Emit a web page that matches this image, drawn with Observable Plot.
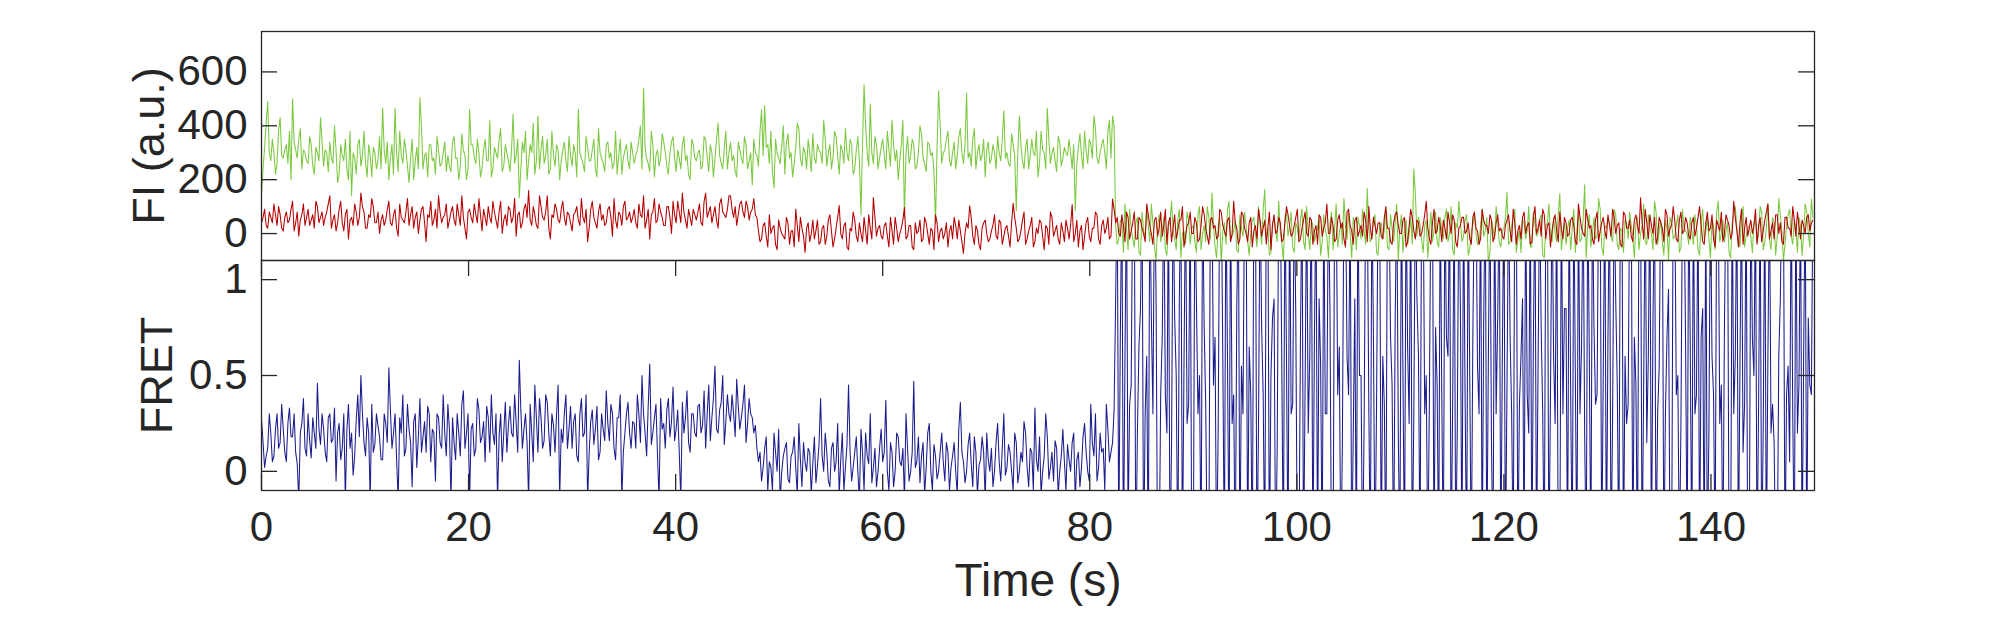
<!DOCTYPE html>
<html><head><meta charset="utf-8">
<script src="https://cdn.jsdelivr.net/npm/d3@7"></script>
<script src="https://cdn.jsdelivr.net/npm/@observablehq/plot@0.6"></script>
<style>
html,body{margin:0;padding:0;background:#fff;}
#wrap{position:relative;width:2005px;height:625px;overflow:hidden;background:#fff;}
#wrap svg{position:absolute;left:0;}
</style></head><body><div id="wrap"></div>
<script>
// frame interval of the main samples (s); the "Mid" arrays hold the frames half-way between
const dt = 0.3;
// donor (green) intensity, a.u.
const donor = [
150,320,490,270,300,260,430,280,330,380,500,310,350,240,300,260,330,220,300,430,
250,300,340,260,310,220,290,350,200,140,280,330,250,380,210,290,320,240,360,466,
260,200,330,466,230,290,350,250,280,200,320,503,240,300,330,270,220,310,260,340,
290,230,360,280,250,310,200,460,330,260,300,240,350,270,210,320,280,390,250,300,
230,443,290,133,340,380,270,300,220,437,310,260,350,240,290,330,200,310,270,360,
250,300,462,280,230,320,270,350,210,300,260,330,280,240,380,290,220,310,270,340,
260,310,400,540,280,230,330,290,250,370,300,220,340,280,310,240,360,290,200,330,
270,310,250,350,230,300,280,410,260,320,240,340,290,210,310,260,330,270,180,300,
250,460,474,330,380,170,300,260,400,340,280,210,320,390,250,300,350,230,280,330,
300,420,250,330,280,360,220,310,390,270,330,240,360,70,552,300,481,260,330,280,
350,240,310,420,270,200,330,58,360,290,330,250,400,280,230,330,300,37,530,260,
310,380,250,340,290,390,260,522,300,350,240,330,290,210,340,280,300,360,270,456,
300,250,330,85,437,270,320,240,350,290,210,380,300,464,260,320,230,340,280,300,
350,240,85,320,290,380,260,330,437,280,300,350,240,420,436,30,-20,40,110,-60,
20,-50,60,-80,10,90,-30,40,-100,70,0,-60,30,120,-20,50,-90,10,80,-40,
30,-70,100,0,-30,60,150,-50,20,-110,40,90,-20,10,-60,70,-10,30,-80,50,
0,100,-40,163,20,-70,60,-30,10,-100,80,30,-50,40,-20,90,-60,0,50,-30,
20,-80,70,-10,40,-60,110,0,-40,30,80,-90,20,60,-20,10,167,-30,50,-70,
30,-20,90,-60,20,40,-100,70,10,-40,60,240,-10,30,-70,50,0,-30,80,-50,
10,60,-30,100,-80,20,40,-10,70,-60,30,0,-40,90,10,-110,50,-20,40,-50,
20,152,-30,60,-70,10,50,-20,100,-50,30,0,70,-90,40,-10,60,-30,148,0,
-40,50,20,-70,80,-20,181,30,-50,60,-10,90,-80,20,40,-30,70,-60,10,50,
-20,30,-90,60,0,110,-40,20,-60,80,10,-30,50,-100,40,-10,70,-50,20,0,
60,-40,30,-80,90,10,-20,50,-60,120,0,-30,40,-90,70,20,-50,100,-10,30,
-70,50,0,80,-30,110,-60,40,-10,70,-100,30,90,-40,20,60,-80,110,0,128
];
const donorMid = [
240,410,300,350,220,380,290,310,260,200,340,280,390,310,270,360,250,320,270,340,
310,230,280,400,190,330,270,240,380,300,220,350,290,260,330,210,300,270,240,310,
340,280,220,300,380,260,310,190,350,270,240,400,290,210,330,280,360,250,300,230,
250,340,280,200,370,290,240,330,280,350,210,310,270,420,240,300,350,230,330,270,
310,260,350,240,300,200,330,410,270,240,360,290,220,380,250,310,270,340,230,290,
330,210,300,260,360,270,310,240,390,280,230,340,300,260,220,350,280,330,240,300,
290,350,240,320,260,380,210,310,280,340,250,300,360,230,280,330,270,220,350,280,
300,240,360,280,330,210,350,290,240,380,300,270,230,340,280,360,240,300,350,290,
380,290,320,260,230,350,280,330,220,370,300,260,410,280,320,240,300,370,260,310,
260,350,300,240,380,290,330,260,300,350,220,310,270,330,400,250,300,360,240,320,
290,380,250,330,310,270,420,300,260,350,240,300,370,260,340,290,230,320,400,300,
350,270,300,240,360,300,330,280,250,390,300,270,350,310,260,330,240,300,350,280,
260,370,290,300,330,240,350,290,300,380,260,310,240,350,300,270,360,250,320,290,
300,330,260,370,240,310,350,280,390,260,330,300,380,280,400,-40,50,-70,20,90,
-20,40,-70,80,-10,30,110,-50,20,-30,60,-80,40,10,-60,90,0,-40,50,20,
-30,70,-60,30,100,-20,40,-90,60,10,-40,120,-10,50,-70,20,80,-30,0,60,
-50,30,90,-20,-80,40,10,120,-40,60,-10,80,-70,20,50,-30,100,-60,30,0,
60,-30,10,-90,80,20,-50,40,130,-20,0,60,-60,30,90,-40,20,-10,70,-80,
40,10,-50,70,-30,110,20,-70,50,0,-40,150,60,-20,30,-90,80,10,-30,60,
-20,90,0,-60,40,120,-30,50,-80,10,70,-40,30,-10,60,-70,20,100,-30,10,
60,-40,30,90,-20,-70,40,10,-50,80,-10,50,-80,30,110,-30,0,70,-60,40,
20,-60,90,10,-30,50,-90,70,0,-20,130,-50,30,60,-10,90,-40,20,-70,40,
80,-10,40,-60,30,-30,70,0,120,-40,50,-80,20,60,-20,30,-70,90,10,-40,
10,70,-60,40,-20,60,-90,30,80,-30,50,10,-70,40,100,-20,60,-50,20,-10,
40,-30,100,-60,20,-20,60,-80,130,10,-40,70,-10,50,-70,30,0,80,-50,60
];
// acceptor (red) intensity, a.u.
const acceptor = [
40,90,20,60,110,30,70,10,80,50,120,40,-10,70,30,90,50,20,100,60,
30,80,140,50,10,90,40,70,-20,60,110,30,150,80,20,60,100,40,0,70,
50,120,30,90,-10,60,40,130,70,20,80,50,100,-30,60,30,90,140,40,70,
20,80,50,110,30,60,-20,90,40,70,130,10,60,100,40,80,20,120,50,30,
90,60,-10,80,40,110,160,30,70,20,100,50,140,-20,60,90,40,120,30,70,
10,80,50,130,40,-30,90,60,20,110,70,40,100,-10,50,80,30,120,60,40,
90,20,70,140,50,-20,80,40,110,60,30,100,0,70,120,40,80,20,60,90,
50,110,30,150,80,40,100,20,130,70,90,140,60,30,110,80,120,50,90,70,
10,-20,40,-50,0,30,-60,20,-10,60,-40,10,90,-30,20,-70,40,0,-20,50,
-30,30,-10,70,-50,20,104,-20,40,-60,10,50,-30,0,60,-40,20,134,-10,30,
-20,40,-50,10,60,-30,20,97,-10,30,-60,0,50,-20,40,-40,10,70,-30,20,
0,-50,30,60,-20,10,-74,40,103,-10,30,-40,20,50,-30,10,70,-20,40,-10,
30,-50,112,20,-20,50,-40,10,60,-30,0,40,-60,20,80,-10,30,-40,10,50,
-20,108,0,-50,30,-10,60,-30,20,70,-40,50,20,-20,128,40,0,70,-30,60,
10,80,-20,50,0,110,30,-40,60,20,-10,90,40,-30,70,10,50,-50,30,80,
0,40,-20,100,20,-40,60,30,-10,80,10,50,-30,120,20,-20,70,0,40,-50,
30,90,-10,50,20,-60,70,10,40,-20,100,30,0,60,-30,20,80,-10,50,10,
-40,60,20,110,0,30,-20,70,40,-50,90,10,50,-10,30,80,-30,20,60,0,
40,-20,100,20,-40,70,30,0,60,-30,90,10,50,-10,30,120,-20,40,0,60,
-30,20,80,0,50,-50,30,60,10,-20,60,20,-40,90,30,0,50,-10,70,20,
-20,50,10,90,-40,30,60,0,40,-30,100,20,-10,70,30,-50,50,10,80,-20,
40,0,60,-30,110,20,-10,50,30,-40,80,10,60,-20,30,90,0,40,-50,70,
20,-10,50,30,133,-20,40,70,0,-40,60,20,90,-10,30,50,-30,80,10,40,
-20,60,20,100,-30,40,10,70,-50,30,80,0,50,-20,120,10,40,-40,60,20,
0,90,30,-30,50,110,10,-20,70,40,-40,60,20,100,-10,30,50,0,70,40
];
const acceptorMid = [
60,30,80,40,70,100,20,60,40,90,10,80,50,110,60,30,70,120,40,80,
60,110,20,70,40,120,10,90,50,30,80,60,100,20,70,130,40,80,50,30,
90,40,70,20,110,50,80,30,100,60,0,90,40,70,120,50,20,80,60,110,
50,100,30,70,140,20,80,60,110,40,70,90,30,60,120,50,80,0,70,100,
40,130,70,20,90,60,50,100,30,140,60,80,20,70,110,50,90,60,80,40,
70,100,30,60,90,20,120,40,80,50,30,90,60,130,20,70,100,50,80,60,
40,110,60,20,90,70,130,50,80,30,100,60,120,40,80,150,50,90,30,70,
80,40,120,60,100,70,50,110,80,60,140,90,100,70,120,60,100,80,130,60,
-30,30,-10,70,20,-40,50,0,-20,40,10,-50,30,60,-10,20,-30,50,10,-40,
20,-40,50,10,-20,60,0,30,-50,20,80,-10,40,-30,10,70,-20,60,20,-10,
30,-10,60,-40,20,0,50,-20,30,-50,40,10,-30,60,0,20,-60,40,10,-20,
40,10,-20,30,50,-30,0,20,60,-40,10,-60,40,0,-20,30,-10,50,-40,20,
-10,40,60,-30,10,80,-20,30,-50,20,50,-10,30,-40,60,10,-20,40,-30,20,
30,-30,50,10,-60,40,-10,20,80,-20,30,0,60,-10,90,60,-10,30,80,-20,
40,-20,60,20,-30,70,0,50,-10,80,30,-40,60,20,-20,50,100,-10,40,0,
60,-30,30,70,-10,50,20,-20,90,30,-10,60,0,40,-40,80,20,-30,60,10,
-20,50,20,-40,80,30,0,60,-30,40,70,-10,30,90,-20,50,0,60,-40,30,
70,-10,40,0,60,-30,50,20,-20,80,30,-40,60,10,-10,50,100,-20,30,40,
-10,60,20,-30,40,80,0,50,-50,30,60,-20,40,0,70,20,-40,90,10,30,
50,-20,40,70,-30,20,60,0,40,-40,80,10,-20,50,30,70,-30,40,10,-10,
30,70,-30,40,10,-20,80,30,-40,60,0,50,90,-20,40,10,70,-30,20,60,
-10,50,30,-40,60,0,90,20,-20,50,-30,40,10,70,-10,60,30,-40,80,20,
50,-30,70,0,40,90,-20,30,60,-10,40,-30,70,20,100,-20,50,0,60,-10,
40,-10,60,30,-40,80,20,-20,50,10,-30,70,30,0,60,-50,90,20,-10,50,
30,-40,60,10,80,-20,40,70,0,-30,60,20,-10,50,80,-20,30,60,10,50
];
// FRET efficiency
const fret = [
0.27,0.02,0.12,0.2,0.08,0.3,0.15,0.22,0.05,0.33,0.18,0.1,-0.15,0.25,0.12,0.3,0.07,0.2,0.46,0.14,
0.22,0.05,0.3,0.17,-0.05,0.25,0.12,-0.15,0.35,0.2,0.08,0.4,0.5,0.15,0.28,-0.15,0.1,0.3,0.18,0.06,
0.25,0.54,0.12,0.3,-0.15,0.2,0.08,0.35,0.15,0.26,0.02,0.38,0.18,0.1,0.3,0.22,-0.05,0.28,0.12,0.2,
0.35,-0.15,0.15,0.3,0.08,0.42,0.2,-0.15,0.25,0.12,0.32,0.18,0.05,0.28,0.4,0.14,-0.15,0.3,0.2,0.1,
0.34,0.18,0.25,0.58,0.12,0.3,-0.15,0.2,0.45,0.1,0.28,0.16,0.36,0.08,0.24,0.3,-0.15,0.15,0.4,0.22,
0.12,0.3,0.05,0.38,0.2,-0.15,0.26,0.14,0.34,0.1,0.22,0.42,0.16,0.3,0.06,0.28,-0.15,0.2,0.36,0.12,
0.25,0.4,0.15,0.3,0.08,0.56,0.2,0.35,-0.15,0.22,0.12,0.38,0.26,0.16,0.32,-0.15,0.2,0.42,0.1,0.3,
0.18,0.35,0.24,0.12,0.45,0.28,0.55,0.2,0.36,0.14,0.4,0.26,0.3,0.48,0.22,0.35,0.15,0.38,0.28,0.24,
0.05,-0.05,0.12,-0.1,0.02,0.2,0.0,-0.15,0.08,0.15,-0.06,0.1,0.02,0.25,-0.08,0.05,0.12,-0.12,0.18,0.03,
0.38,0.0,0.1,-0.08,0.15,0.05,-0.12,0.2,0.02,0.45,-0.05,0.1,0.0,0.22,-0.1,0.08,0.3,0.02,-0.08,0.12,
0.05,0.37,-0.1,0.1,0.0,0.18,0.03,-0.15,0.12,0.0,0.47,0.05,-0.06,0.15,0.02,0.25,-0.1,0.08,0.0,0.2,
-0.05,0.1,0.02,0.15,-0.12,0.36,0.05,0.0,0.2,-0.08,0.1,0.03,0.18,-0.15,0.06,0.12,0.0,0.25,-0.05,0.3,
0.02,0.1,-0.1,0.15,0.0,0.05,0.2,-0.08,0.1,0.33,0.0,-0.12,0.08,0.18,0.02,-0.05,0.12,0.0,0.22,-0.1,
0.06,0.15,-0.15,0.1,0.02,0.25,0.0,0.35,0.08,-0.05,0.2,0.12,0.35,0.05,0.15,0.9,-0.4,1.5,0.6,-0.3,
0.45,1.5,0.2,0.85,-0.5,0.6,1.5,0.3,0.95,-0.5,0.7,0.4,1.5,0.15,0.8,-0.5,1.5,0.55,0.25,1.5,
-0.5,0.9,0.5,1.5,0.35,-0.5,1.5,0.7,0.2,1.5,-0.5,0.6,1.5,0.4,0.85,-0.5,0.3,1.5,0.65,-0.5,
1.5,0.25,0.75,-0.5,1.5,0.5,0.9,0.1,1.5,-0.5,0.6,1.5,0.35,0.8,-0.5,1.5,0.45,0.2,1.5,0.7,
-0.5,0.55,1.5,0.3,0.85,-0.5,1.5,0.65,0.15,1.5,0.4,-0.5,0.9,1.5,0.5,0.25,1.5,-0.5,0.7,0.35,
1.5,0.6,-0.5,1.5,0.45,0.8,0.2,1.5,-0.5,0.65,1.5,0.3,0.9,-0.5,1.5,0.5,0.35,1.5,0.75,-0.5,
0.4,1.5,0.6,-0.5,1.5,0.25,0.85,1.5,-0.5,0.5,0.7,1.5,0.3,-0.5,1.5,0.6,0.15,1.5,0.8,-0.5,
1.5,0.45,0.7,-0.5,1.5,0.35,0.9,1.5,0.2,-0.5,1.5,0.55,0.75,-0.5,1.5,0.4,0.6,1.5,-0.5,0.3,
0.85,1.5,-0.5,0.5,1.5,0.65,0.2,1.5,-0.5,0.75,0.4,1.5,0.55,-0.5,1.5,0.3,0.9,-0.5,1.5,0.6,
0.35,1.5,0.7,-0.5,1.5,0.45,0.15,1.5,0.8,-0.5,0.55,1.5,0.3,0.95,-0.5,1.5,0.5,0.25,1.5,-0.5,
0.65,1.5,0.4,-0.5,0.85,1.5,0.2,0.6,-0.5,1.5,0.45,0.75,1.5,-0.5,0.3,1.5,0.55,0.1,1.5,-0.5,
0.7,1.5,0.35,-0.5,1.5,0.6,0.2,0.15,-0.5,0.9,1.5,0.4,0.05,0.3,1.5,0.45,-0.5,1.5,0.8,0.4
];
const fretMid = [
0.15,0.08,0.3,0.05,0.22,0.12,0.35,0.1,0.25,0.18,0.3,0.04,0.2,0.38,0.08,0.16,0.28,0.12,0.22,0.3,
0.1,0.28,0.15,0.33,0.2,0.06,0.3,0.22,0.12,-0.02,0.27,0.18,0.3,0.08,0.2,0.35,0.14,0.24,0.06,0.3,
0.15,0.32,0.2,0.06,0.28,0.4,0.12,0.22,-0.08,0.3,0.18,0.1,0.26,0.34,0.05,0.2,0.3,0.15,0.4,0.08,
0.22,0.28,0.06,0.2,0.35,0.12,0.3,0.22,0.08,0.38,0.15,0.26,0.34,0.1,0.2,0.3,0.18,0.05,0.36,0.24,
0.2,0.4,0.1,0.32,0.22,0.15,0.35,0.05,0.28,0.38,0.12,0.4,0.2,0.3,0.1,0.45,0.22,0.3,0.12,0.34,
0.26,0.08,0.3,0.18,0.4,0.1,0.32,0.22,0.06,0.3,0.16,0.25,0.35,0.12,0.28,0.4,0.1,0.3,0.2,0.26,
0.12,0.3,0.5,0.2,0.34,0.14,0.28,0.08,0.38,0.25,0.32,0.18,0.44,0.22,0.1,0.36,0.28,0.15,0.3,0.2,
0.34,0.2,0.42,0.3,0.16,0.38,0.22,0.32,0.5,0.26,0.3,0.4,0.18,0.34,0.28,0.45,0.25,0.3,0.2,0.12,
0.1,0.02,0.18,0.05,-0.1,0.1,0.22,0.0,0.12,-0.04,0.08,0.18,-0.12,0.06,0.15,0.0,0.1,0.04,-0.06,0.14,
0.08,0.2,-0.05,0.12,0.0,0.25,0.06,-0.1,0.14,0.1,0.02,0.18,-0.15,0.1,0.2,0.04,-0.06,0.12,0.0,0.22,
0.1,0.0,0.15,-0.08,0.2,0.05,0.12,0.3,-0.05,0.1,0.02,0.18,0.08,-0.12,0.2,0.0,0.14,-0.04,0.1,0.05,
0.15,-0.1,0.08,0.0,0.22,0.1,-0.06,0.14,0.04,0.18,-0.12,0.06,0.1,0.2,0.0,-0.08,0.15,0.05,0.12,-0.02,
0.14,0.0,0.2,-0.06,0.1,0.26,0.02,0.12,-0.1,0.06,0.18,0.0,0.3,-0.04,0.1,0.16,-0.12,0.08,0.05,0.14,
0.0,0.2,0.06,-0.08,0.18,0.1,-0.05,0.15,0.3,0.02,0.1,-0.1,0.22,0.1,0.32,1.5,0.7,-0.5,1.5,0.35,
1.5,-0.5,0.65,1.5,0.3,-0.5,0.8,1.5,-0.5,0.4,1.5,0.2,-0.5,1.5,0.5,0.9,-0.5,1.5,0.35,-0.5,
1.5,0.3,-0.5,0.75,-0.5,1.5,0.45,-0.5,1.5,0.6,1.5,-0.5,0.25,-0.5,1.5,0.55,1.5,-0.5,0.4,1.5,
-0.5,1.5,0.4,1.5,-0.5,0.8,-0.5,1.5,0.55,1.5,-0.5,0.3,1.5,-0.5,0.7,-0.5,1.5,0.6,-0.5,1.5,
0.9,-0.5,0.3,1.5,-0.5,1.5,0.4,-0.5,1.5,0.6,1.5,0.2,-0.5,0.5,-0.5,1.5,0.35,1.5,-0.5,1.5,
-0.5,0.35,1.5,0.7,-0.5,1.5,-0.5,0.5,1.5,0.25,-0.5,1.5,0.6,1.5,0.3,-0.5,1.5,-0.5,0.45,1.5,
-0.5,0.7,1.5,0.35,-0.5,1.5,-0.5,0.4,1.5,-0.5,1.5,0.55,1.5,0.8,-0.5,1.5,-0.5,0.3,1.5,0.6,
-0.5,1.5,0.3,1.5,-0.5,0.6,-0.5,0.4,1.5,0.7,-0.5,1.5,0.3,1.5,-0.5,1.5,0.25,-0.5,1.5,0.85,
-0.5,0.4,1.5,-0.5,0.3,1.5,-0.5,0.6,1.5,0.35,1.5,-0.5,1.5,0.7,-0.5,1.5,0.45,1.5,-0.5,0.25,
1.5,-0.5,0.45,1.5,-0.5,1.5,0.6,-0.5,1.5,0.3,1.5,-0.5,0.7,-0.5,1.5,0.4,-0.5,1.5,0.65,1.5,
-0.5,0.3,1.5,0.7,-0.5,-0.5,1.5,0.4,1.5,0.25,-0.5,1.5,-0.5,1.5,0.6,-0.5,1.5,0.35,-0.5,1.5,
0.5,-0.5,1.5,0.25,-0.5,1.5,0.35,-0.5,0.6,1.5,-0.5,0.55,1.5,-0.5,0.2,1.5,0.6,-0.5,0.45,1.5
];
const timeDomain = [0, 150];
const timeTicks = [0, 20, 40, 60, 80, 100, 120, 140];
const fiDomain = [-100, 750];
const fiTicks = [0, 200, 400, 600];
const fretDomain = [-0.1, 1.1];
const fretTicks = [0, 0.5, 1];
const labels = {x: "Time (s)", fi: "FI (a.u.)", fret: "FRET"};

// merge main frames and half-way frames into one time-ordered trace
const trace = (main, mid) => main.flatMap((v, i) => [{t: i * dt, v}, {t: i * dt + dt / 2, v: mid[i]}]);
const donorTrace = trace(donor, donorMid);
const acceptorTrace = trace(acceptor, acceptorMid);
const fretTrace = trace(fret, fretMid);

const W = 2005, ML = 261, MR = 191;
const FW = W - ML - MR;           // frame width
const TICK = 16;
const INK = "#262626";
const FONT = "'Liberation Sans', Arial, Helvetica, sans-serif";
const TICKFONT = 42, LABELFONT = 45;
const baseStyle = {fontFamily: FONT, fontSize: TICKFONT + "px", color: INK, background: "transparent", overflow: "visible"};

// ---------- top panel: FI ----------
const topH = 229;
const topPlot = Plot.plot({
  width: W, height: 31 + topH + 2, marginLeft: ML, marginRight: MR, marginTop: 31, marginBottom: 2,
  style: baseStyle,
  x: {domain: timeDomain, axis: null},
  y: {domain: fiDomain},
  marks: [
    Plot.lineY(donorTrace, {x: "t", y: "v", stroke: "#7ac83e", strokeWidth: 1.05, clip: true}),
    Plot.lineY(acceptorTrace, {x: "t", y: "v", stroke: "#b40000", strokeWidth: 1.05, clip: true}),
    Plot.tickY(fiTicks, {y: d => d, insetRight: FW - TICK, stroke: INK, strokeWidth: 1.3}),
    Plot.tickY(fiTicks, {y: d => d, insetLeft: FW - TICK, stroke: INK, strokeWidth: 1.3}),
    Plot.axisY({ticks: fiTicks, tickSize: 0, tickPadding: 14, label: null, fontSize: TICKFONT}),
    Plot.text([labels.fi], {text: d => d, frameAnchor: "left", dx: -112, rotate: -90, fontSize: LABELFONT, textAnchor: "middle", lineAnchor: "middle", fill: INK}),
    Plot.frame({stroke: INK, strokeWidth: 1.3})
  ]
});
topPlot.style.top = "0px";

// ---------- bottom panel: FRET ----------
const botPlot = Plot.plot({
  width: W, height: 625 - 259, marginLeft: ML, marginRight: MR, marginTop: 1, marginBottom: 135,
  style: baseStyle,
  x: {domain: timeDomain},
  y: {domain: fretDomain},
  marks: [
    Plot.lineY(fretTrace, {x: "t", y: "v", stroke: "#1c1c8e", strokeWidth: 1.05, clip: true}),
    Plot.tickY(fretTicks, {y: d => d, insetRight: FW - TICK, stroke: INK, strokeWidth: 1.3}),
    Plot.tickY(fretTicks, {y: d => d, insetLeft: FW - TICK, stroke: INK, strokeWidth: 1.3}),
    Plot.tickX(timeTicks, {x: d => d, insetTop: 230 - TICK, stroke: INK, strokeWidth: 1.3}),
    Plot.tickX(timeTicks, {x: d => d, insetBottom: 230 - TICK, stroke: INK, strokeWidth: 1.3}),
    Plot.axisY({ticks: fretTicks, tickSize: 0, tickPadding: 14, tickFormat: d => String(d), label: null, fontSize: TICKFONT}),
    Plot.axisX({ticks: timeTicks, tickSize: 0, tickPadding: 21, label: null, fontSize: TICKFONT}),
    Plot.text([labels.fret], {text: d => d, frameAnchor: "left", dx: -104, rotate: -90, fontSize: LABELFONT, textAnchor: "middle", lineAnchor: "middle", fill: INK}),
    Plot.text([labels.x], {text: d => d, frameAnchor: "bottom", dy: 105, fontSize: LABELFONT + 1, textAnchor: "middle", lineAnchor: "bottom", fill: INK}),
    Plot.frame({stroke: INK, strokeWidth: 1.3})
  ]
});
botPlot.style.top = "259px";

const wrap = document.getElementById("wrap");
wrap.appendChild(topPlot);
wrap.appendChild(botPlot);
</script>
</body></html>
